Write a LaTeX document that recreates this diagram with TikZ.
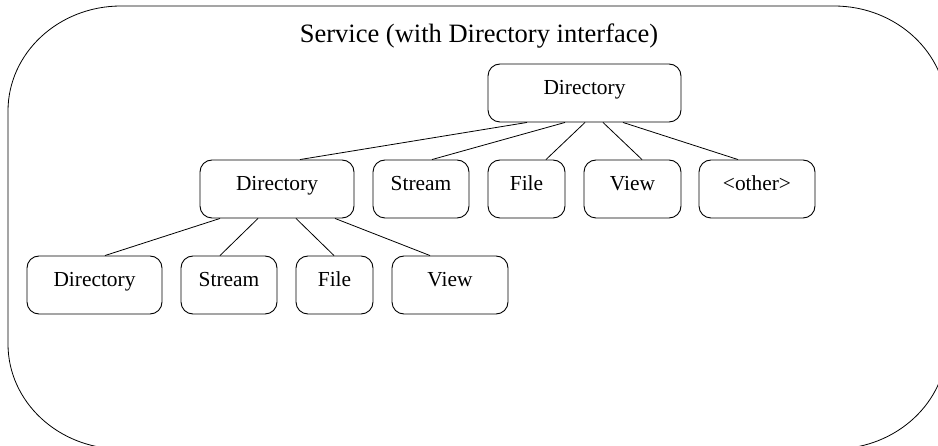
\documentclass[tikz,border=0pt]{standalone}
\usepackage{fontspec}
\setmainfont{Liberation Serif}
\begin{document}
\begin{tikzpicture}[x=1pt,y=1pt,
  objbox/.style={draw, line width=0.9pt, rounded corners=12pt, inner xsep=0pt,
    inner ysep=0pt, text height=30.5pt, text depth=27.5pt,
    font=\fontsize{21.4}{24}\selectfont},
  link/.style={line width=0.8pt}]
\useasboundingbox (0,0) rectangle (938,-446);

% service frame with elliptical corners
\draw[line width=0.8pt] (121,-6) -- (834,-6)
  arc[start angle=90, end angle=0, x radius=113pt, y radius=105pt] -- (947,-344)
  arc[start angle=0, end angle=-90, x radius=113pt, y radius=105pt] -- (121,-449)
  arc[start angle=-90, end angle=-180, x radius=113pt, y radius=105pt] -- (8,-111)
  arc[start angle=180, end angle=90, x radius=113pt, y radius=105pt] -- cycle;

\node[anchor=base, inner sep=0pt, font=\fontsize{26.5}{30}\selectfont] (title) at (479,-43)
  {Service (with Directory interface)};

% root
\node[objbox, minimum width=193pt] (top) at (584.5,-93) {Directory};

% first level
\node[objbox, minimum width=154pt] (d2) at (277,-189) {Directory};
\node[objbox, minimum width=96pt]  (s2) at (421,-189) {Stream};
\node[objbox, minimum width=77pt]  (f2) at (526.5,-189) {File};
\node[objbox, minimum width=97pt]  (v2) at (632.5,-189) {View};
\node[objbox, minimum width=116pt] (o2) at (757,-189) {<other>};

% second level
\node[objbox, minimum width=135pt] (d3) at (94.5,-285) {Directory};
\node[objbox, minimum width=96pt]  (s3) at (229,-285) {Stream};
\node[objbox, minimum width=77pt]  (f3) at (334.5,-285) {File};
\node[objbox, minimum width=116pt] (v3) at (450,-285) {View};

% tree links
\draw[link] ([xshift=-57.5pt]top.south) -- ([xshift=23pt]d2.north);
\draw[link] ([xshift=-19.5pt]top.south) -- ([xshift=11pt]s2.north);
\draw[link] ([xshift=0.5pt]top.south) -- ([xshift=19.5pt]f2.north);
\draw[link] ([xshift=18.5pt]top.south) -- ([xshift=9.5pt]v2.north);
\draw[link] ([xshift=38.5pt]top.south) -- ([xshift=-19pt]o2.north);

\draw[link] ([xshift=-57pt]d2.south) -- ([xshift=10.5pt]d3.north);
\draw[link] ([xshift=-19pt]d2.south) -- ([xshift=-9pt]s3.north);
\draw[link] ([xshift=19pt]d2.south) -- ([xshift=-0.5pt]f3.north);
\draw[link] ([xshift=58pt]d2.south) -- ([xshift=-20pt]v3.north);
\end{tikzpicture}
\end{document}
